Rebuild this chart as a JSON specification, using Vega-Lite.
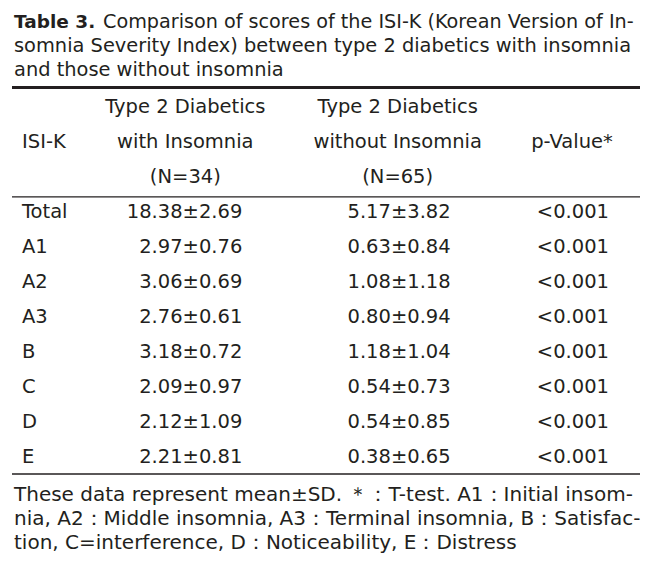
{
  "$schema": "https://vega.github.io/schema/vega-lite/v6.json",
  "width": 648,
  "height": 563,
  "autosize": {"type": "fit", "contains": "padding"},
  "padding": {"left": 10, "right": 6, "top": 0, "bottom": 0},
  "background": "white",
  "config": {
    "view": {"stroke": null},
    "text": {"font": "DejaVu Sans", "fontSize": 19.5, "color": "#231f20", "baseline": "middle"},
    "rule": {"color": "#231f20"}
  },
  "datasets": {
    "title": [
      {"line": "1", "bold": "Table 3.", "text": "Comparison of scores of the ISI-K (Korean Version of In-"},
      {"line": "2", "bold": "", "text": "somnia  Severity Index) between type 2 diabetics with insomnia"},
      {"line": "3", "bold": "", "text": "and those without insomnia"}
    ],
    "header": [
      {"line": "h1", "label": "", "with": "Type 2 Diabetics", "without": "Type 2 Diabetics", "p": ""},
      {"line": "h2", "label": "ISI-K", "with": "with Insomnia", "without": "without Insomnia", "p": "p-Value*"},
      {"line": "h3", "label": "", "with": "(N=34)", "without": "(N=65)", "p": ""}
    ],
    "rows": [
      {"line": "Total", "label": "Total", "with": "18.38±2.69", "without": "5.17±3.82", "p": "<0.001"},
      {"line": "A1", "label": "A1", "with": "2.97±0.76", "without": "0.63±0.84", "p": "<0.001"},
      {"line": "A2", "label": "A2", "with": "3.06±0.69", "without": "1.08±1.18", "p": "<0.001"},
      {"line": "A3", "label": "A3", "with": "2.76±0.61", "without": "0.80±0.94", "p": "<0.001"},
      {"line": "B", "label": "B", "with": "3.18±0.72", "without": "1.18±1.04", "p": "<0.001"},
      {"line": "C", "label": "C", "with": "2.09±0.97", "without": "0.54±0.73", "p": "<0.001"},
      {"line": "D", "label": "D", "with": "2.12±1.09", "without": "0.54±0.85", "p": "<0.001"},
      {"line": "E", "label": "E", "with": "2.21±0.81", "without": "0.38±0.65", "p": "<0.001"}
    ],
    "footer": [
      {"line": "1", "text": "These data represent mean±SD. ＊：T-test. A1：Initial insom-"},
      {"line": "2", "text": "nia, A2：Middle insomnia, A3：Terminal insomnia, B：Satisfac-"},
      {"line": "3", "text": "tion, C=interference, D：Noticeability, E：Distress"}
    ],
    "rules": [{"edge": "rule"}]
  },
  "resolve": {"scale": {"y": "independent"}},
  "layer": [
    {
      "data": {"name": "title"},
      "layer": [
        {
          "transform": [{"filter": "datum.line === '1'"}],
          "mark": {"type": "text", "align": "left", "dx": -8, "fontWeight": "bold", "fontSize": 18.5},
          "encoding": {
            "x": {"datum": "label", "type": "nominal", "scale": {"type": "point", "domain": ["label", "with", "without", "p"], "range": [10, 560], "padding": 0}, "axis": null},
            "y": {"field": "line", "type": "nominal", "scale": {"type": "point", "domain": ["1", "2", "3"], "range": [22, 70], "padding": 0}, "axis": null},
            "text": {"field": "bold"}
          }
        },
        {
          "transform": [{"filter": "datum.line === '1'"}],
          "mark": {"type": "text", "align": "left", "dx": 81, "fontSize": 19.2},
          "encoding": {
            "x": {"datum": "label", "type": "nominal", "scale": {"type": "point", "domain": ["label", "with", "without", "p"], "range": [10, 560], "padding": 0}, "axis": null},
            "y": {"field": "line", "type": "nominal", "scale": {"type": "point", "domain": ["1", "2", "3"], "range": [22, 70], "padding": 0}, "axis": null},
            "text": {"field": "text"}
          }
        },
        {
          "transform": [{"filter": "datum.line !== '1'"}],
          "mark": {"type": "text", "align": "left", "dx": -8, "fontSize": 19.4},
          "encoding": {
            "x": {"datum": "label", "type": "nominal", "scale": {"type": "point", "domain": ["label", "with", "without", "p"], "range": [10, 560], "padding": 0}, "axis": null},
            "y": {"field": "line", "type": "nominal", "scale": {"type": "point", "domain": ["1", "2", "3"], "range": [22, 70], "padding": 0}, "axis": null},
            "text": {"field": "text"}
          }
        }
      ]
    },
    {
      "layer": [
        {
          "data": {"name": "rules"},
          "mark": {"type": "rule", "strokeWidth": 3, "yOffset": -2},
          "encoding": {
            "y": {"datum": "h1", "type": "nominal", "bandPosition": 0, "scale": {"type": "band", "domain": ["h1", "h2", "h3", "Total", "A1", "A2", "A3", "B", "C", "D", "E"], "range": [89.5, 474], "paddingInner": 0, "paddingOuter": 0}, "axis": null}
          }
        },
        {
          "data": {"name": "rules"},
          "mark": {"type": "rule", "strokeWidth": 1.2, "yOffset": 2.5},
          "encoding": {
            "y": {"datum": "Total", "type": "nominal", "bandPosition": 0, "scale": {"type": "band", "domain": ["h1", "h2", "h3", "Total", "A1", "A2", "A3", "B", "C", "D", "E"], "range": [89.5, 474], "paddingInner": 0, "paddingOuter": 0}, "axis": null}
          }
        },
        {
          "data": {"name": "rules"},
          "mark": {"type": "rule", "strokeWidth": 1.5},
          "encoding": {
            "y": {"datum": "E", "type": "nominal", "bandPosition": 1, "scale": {"type": "band", "domain": ["h1", "h2", "h3", "Total", "A1", "A2", "A3", "B", "C", "D", "E"], "range": [89.5, 474], "paddingInner": 0, "paddingOuter": 0}, "axis": null}
          }
        },
        {
          "data": {"name": "header"},
          "mark": {"type": "text", "align": "left"},
          "encoding": {
            "x": {"datum": "label", "type": "nominal", "scale": {"type": "point", "domain": ["label", "with", "without", "p"], "range": [10, 560], "padding": 0}, "axis": null},
            "y": {"field": "line", "type": "nominal", "scale": {"type": "band", "domain": ["h1", "h2", "h3", "Total", "A1", "A2", "A3", "B", "C", "D", "E"], "range": [89.5, 474], "paddingInner": 0, "paddingOuter": 0}, "axis": null},
            "text": {"field": "label"}
          }
        },
        {
          "data": {"name": "header"},
          "mark": {"type": "text", "align": "center", "dx": -20},
          "encoding": {
            "x": {"datum": "with", "type": "nominal", "scale": {"type": "point", "domain": ["label", "with", "without", "p"], "range": [10, 560], "padding": 0}, "axis": null},
            "y": {"field": "line", "type": "nominal", "scale": {"type": "band", "domain": ["h1", "h2", "h3", "Total", "A1", "A2", "A3", "B", "C", "D", "E"], "range": [89.5, 474], "paddingInner": 0, "paddingOuter": 0}, "axis": null},
            "text": {"field": "with"}
          }
        },
        {
          "data": {"name": "header"},
          "mark": {"type": "text", "align": "center", "dx": 9},
          "encoding": {
            "x": {"datum": "without", "type": "nominal", "scale": {"type": "point", "domain": ["label", "with", "without", "p"], "range": [10, 560], "padding": 0}, "axis": null},
            "y": {"field": "line", "type": "nominal", "scale": {"type": "band", "domain": ["h1", "h2", "h3", "Total", "A1", "A2", "A3", "B", "C", "D", "E"], "range": [89.5, 474], "paddingInner": 0, "paddingOuter": 0}, "axis": null},
            "text": {"field": "without"}
          }
        },
        {
          "data": {"name": "header"},
          "mark": {"type": "text", "align": "center", "dx": 0},
          "encoding": {
            "x": {"datum": "p", "type": "nominal", "scale": {"type": "point", "domain": ["label", "with", "without", "p"], "range": [10, 560], "padding": 0}, "axis": null},
            "y": {"field": "line", "type": "nominal", "scale": {"type": "band", "domain": ["h1", "h2", "h3", "Total", "A1", "A2", "A3", "B", "C", "D", "E"], "range": [89.5, 474], "paddingInner": 0, "paddingOuter": 0}, "axis": null},
            "text": {"field": "p"}
          }
        },
        {
          "data": {"name": "rows"},
          "mark": {"type": "text", "align": "left"},
          "encoding": {
            "x": {"datum": "label", "type": "nominal", "scale": {"type": "point", "domain": ["label", "with", "without", "p"], "range": [10, 560], "padding": 0}, "axis": null},
            "y": {"field": "line", "type": "nominal", "scale": {"type": "band", "domain": ["h1", "h2", "h3", "Total", "A1", "A2", "A3", "B", "C", "D", "E"], "range": [89.5, 474], "paddingInner": 0, "paddingOuter": 0}, "axis": null},
            "text": {"field": "label"}
          }
        },
        {
          "data": {"name": "rows"},
          "mark": {"type": "text", "align": "right", "dx": 37},
          "encoding": {
            "x": {"datum": "with", "type": "nominal", "scale": {"type": "point", "domain": ["label", "with", "without", "p"], "range": [10, 560], "padding": 0}, "axis": null},
            "y": {"field": "line", "type": "nominal", "scale": {"type": "band", "domain": ["h1", "h2", "h3", "Total", "A1", "A2", "A3", "B", "C", "D", "E"], "range": [89.5, 474], "paddingInner": 0, "paddingOuter": 0}, "axis": null},
            "text": {"field": "with"}
          }
        },
        {
          "data": {"name": "rows"},
          "mark": {"type": "text", "align": "right", "dx": 62},
          "encoding": {
            "x": {"datum": "without", "type": "nominal", "scale": {"type": "point", "domain": ["label", "with", "without", "p"], "range": [10, 560], "padding": 0}, "axis": null},
            "y": {"field": "line", "type": "nominal", "scale": {"type": "band", "domain": ["h1", "h2", "h3", "Total", "A1", "A2", "A3", "B", "C", "D", "E"], "range": [89.5, 474], "paddingInner": 0, "paddingOuter": 0}, "axis": null},
            "text": {"field": "without"}
          }
        },
        {
          "data": {"name": "rows"},
          "mark": {"type": "text", "align": "right", "dx": 37},
          "encoding": {
            "x": {"datum": "p", "type": "nominal", "scale": {"type": "point", "domain": ["label", "with", "without", "p"], "range": [10, 560], "padding": 0}, "axis": null},
            "y": {"field": "line", "type": "nominal", "scale": {"type": "band", "domain": ["h1", "h2", "h3", "Total", "A1", "A2", "A3", "B", "C", "D", "E"], "range": [89.5, 474], "paddingInner": 0, "paddingOuter": 0}, "axis": null},
            "text": {"field": "p"}
          }
        }
      ]
    },
    {
      "data": {"name": "footer"},
      "mark": {"type": "text", "align": "left", "dx": -8, "fontSize": 20},
      "encoding": {
        "x": {"datum": "label", "type": "nominal", "scale": {"type": "point", "domain": ["label", "with", "without", "p"], "range": [10, 560], "padding": 0}, "axis": null},
        "y": {"field": "line", "type": "nominal", "scale": {"type": "point", "domain": ["1", "2", "3"], "range": [495, 543], "padding": 0}, "axis": null},
        "text": {"field": "text"}
      }
    }
  ]
}
